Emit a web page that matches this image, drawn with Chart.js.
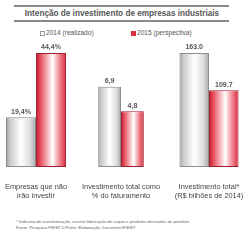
<!DOCTYPE html>
<html>
<head>
<meta charset="utf-8">
<script src="https://cdn.jsdelivr.net/npm/chart.js@4"></script>
<style>
    body { margin: 0; width: 250px; height: 250px; overflow: hidden; background: #fff; font-family: Arial, "Liberation Sans", sans-serif; position: relative; }
    .rule { position: absolute; left: 14px; width: 215px; background: #8a8a8a; }
    #title { position: absolute; left: 0; width: 244px; top: 9px; text-align: center; font-size: 8.2px; font-weight: bold; color: #555; }
    .leg { position: absolute; top: 29px; font-size: 6.6px; color: #555; white-space: nowrap; }
    .sw { display: inline-block; width: 5px; height: 5px; margin-right: 1px; vertical-align: -0.5px; box-sizing: border-box; }
    .box { position: absolute; top: 40px; width: 84px; height: 160px; }
    .note { position: absolute; left: 16px; font-size: 4.3px; color: #666; white-space: nowrap; }
</style>
</head>
<body>
<div class="rule" style="top:5px;height:2px"></div>
<div id="title">Intenção de investimento de empresas industriais</div>
<div class="rule" style="top:20px;height:1.5px"></div>
<div class="leg" style="left:40px"><span class="sw" style="border:1px solid #999;background:#fff"></span>2014 (realizado)</div>
<div class="leg" style="left:131px"><span class="sw" style="background:#d8303e"></span>2015 (perspectiva)</div>

<div class="box" style="left:-6px"><canvas id="c0"></canvas></div>
<div class="box" style="left:79px"><canvas id="c1"></canvas></div>
<div class="box" style="left:167px"><canvas id="c2"></canvas></div>

<div class="note" style="top:219px">* Indústria de transformação, exceto fabricação de coque e produtos derivados do petróleo.</div>
<div class="note" style="top:225px">Fonte: Pesquisa FIESP-D'Fatto; Elaboração: Decomtec/FIESP.</div>

<script>
const categories = [
    ['Empresas que não', 'irão investir'],
    ['Investimento total como', '% do faturamento'],
    ['Investimento total*', '(R$ bilhões de 2014)']
];
const series2014 = [19.4, 6.9, 163.0];
const series2015 = [44.4, 4.8, 109.7];
const labels2014 = ['19,4%', '6,9', '163.0'];
const labels2015 = ['44,4%', '4,8', '109.7'];
const axisMax = [44.4, 9.8, 163.0];

// horizontal "cylinder" gradients for the bars
const grayStops = [[0, '#9a9a9a'], [0.12, '#c8c8c8'], [0.5, '#ffffff'], [0.8, '#dedede'], [1, '#a8a8a8']];
const redStops = [[0, '#c01c2c'], [0.15, '#e8505e'], [0.55, '#ffffff'], [0.8, '#f0808c'], [1, '#d42c3c']];

const barLook = {
    id: 'barLook',
    beforeDatasetsDraw(chart) {
        const ctx = chart.ctx;
        chart.data.datasets.forEach((ds, i) => {
            const stops = i === 0 ? grayStops : redStops;
            chart.getDatasetMeta(i).data.forEach(bar => {
                const g = ctx.createLinearGradient(bar.x - bar.width / 2, 0, bar.x + bar.width / 2, 0);
                stops.forEach(s => g.addColorStop(s[0], s[1]));
                bar.options.backgroundColor = g;
            });
        });
    },
    afterDatasetsDraw(chart) {
        const ctx = chart.ctx;
        ctx.save();
        ctx.font = 'bold 7px Arial, "Liberation Sans", sans-serif';
        ctx.fillStyle = '#555';
        ctx.textAlign = 'center';
        ctx.textBaseline = 'bottom';
        chart.data.datasets.forEach((ds, i) => {
            chart.getDatasetMeta(i).data.forEach((bar, j) => {
                ctx.fillText(ds.valueLabels[j], bar.x, bar.y - 2);
            });
        });
        ctx.restore();
    }
};

categories.forEach((cat, k) => {
    new Chart(document.getElementById('c' + k), {
        type: 'bar',
        data: {
            labels: [cat],
            datasets: [
                {
                    label: '2014 (realizado)',
                    data: [series2014[k]],
                    valueLabels: [labels2014[k]],
                    borderColor: '#8c8c8c',
                    borderWidth: 1,
                    borderSkipped: false
                },
                {
                    label: '2015 (perspectiva)',
                    data: [series2015[k]],
                    valueLabels: [labels2015[k]],
                    borderColor: '#a02030',
                    borderWidth: 1,
                    borderSkipped: false
                }
            ]
        },
        options: {
            animation: false,
            responsive: true,
            maintainAspectRatio: false,
            layout: { padding: { top: 13, left: 0, right: 0, bottom: 0 } },
            datasets: { bar: { categoryPercentage: 0.714, barPercentage: 1 } },
            plugins: { legend: { display: false }, tooltip: { enabled: false } },
            scales: {
                x: {
                    grid: { display: false },
                    border: { display: false },
                    afterFit(scale) { scale.height = 33; },
                    ticks: {
                        color: '#444',
                        font: { size: 7.4, family: 'Arial, "Liberation Sans", sans-serif', lineHeight: 1.2 },
                        padding: 8,
                        maxRotation: 0,
                        autoSkip: false
                    }
                },
                y: {
                    display: false,
                    min: 0,
                    max: axisMax[k]
                }
            }
        },
        plugins: [barLook]
    });
});
</script>
</body>
</html>
